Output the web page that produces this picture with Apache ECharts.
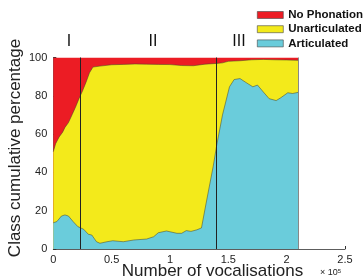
<!DOCTYPE html>
<html><head><meta charset="utf-8">
<script src="https://cdn.jsdelivr.net/npm/echarts@6/dist/echarts.min.js"></script>
<style>html,body{margin:0;padding:0;background:#fff}#c{width:363px;height:280px}</style>
</head><body><div id="c"></div>
<script>
// x in units of 1e5 vocalisations
const noPhonX = [0, 2.1];
const noPhonTop = [100, 100];
const unartX = [0,0.02,0.05,0.08,0.1,0.13,0.16,0.19,0.22,0.25,0.28,0.31,0.34,0.4,0.5,0.6,0.7,0.8,0.9,1.0,1.1,1.2,1.3,1.4,1.45,1.5,1.6,1.7,1.8,1.9,2.0,2.1];
const unartTop = [50.8,55,58.5,61,63.5,66,70,74,78.5,82.5,87,92,95,95.5,96.2,96.4,96.6,96.5,96.4,96.3,95.8,95.7,96.5,96.9,97.2,98,98.3,98.8,99,98.8,98.7,98.5];
const artX = [0,0.03,0.07,0.1,0.13,0.17,0.21,0.26,0.3,0.33,0.37,0.4,0.46,0.51,0.6,0.69,0.8,0.86,0.9,0.97,1.06,1.1,1.14,1.18,1.23,1.27,1.31,1.37,1.4,1.45,1.51,1.55,1.6,1.65,1.71,1.75,1.8,1.85,1.91,1.95,2.01,2.05,2.1];
const artTop = [13.7,14.3,17.2,17.8,17.2,14.3,11.7,10.3,7.7,7.3,3.8,3,3.8,4.3,3.8,4.7,5.2,6.4,8.5,9.4,8.2,8.2,9.6,9.2,10,11,24,43,54,70,84.7,88.5,89,87,84.7,85.6,82,78.5,77.5,79,81.6,81.2,81.8];
const phaseLines = [0.225, 1.4];
const dataEnd = 2.1;
const xTicks = {min:0, max:2.5, interval:0.5};
const yTicks = {min:0, max:100, interval:20};
const xTitle = 'Number of vocalisations';
const yTitle = 'Class cumulative percentage';
const romanLabels = [{t:'I', x:69}, {t:'II', x:153}, {t:'III', x:239}];

const pairs = (xs, ys) => xs.map((x, i) => [x, ys[i]]);
const font = '"Liberation Sans", Arial, Helvetica, sans-serif';
const chart = echarts.init(document.getElementById('c'));
const edge = {color:'#3d3d2a', width:0.7, opacity:0.7};
chart.setOption({
  animation:false,
  textStyle:{fontFamily:font},
  grid:{left:53.3, right:18, top:57.5, bottom:31, containLabel:false, outerBoundsMode:'none'},
  legend:{
    orient:'vertical', left:257, top:9, padding:0, itemWidth:26, itemHeight:7, itemGap:2.2,
    textStyle:{fontFamily:font, fontWeight:'bold', fontSize:11.5, lineHeight:12, color:'#111'},
    itemStyle:{borderColor:'#444', borderWidth:0.6},
    icon:'rect'
  },
  xAxis:{
    type:'value', min:xTicks.min, max:xTicks.max, interval:xTicks.interval,
    splitLine:{show:false},
    axisLine:{lineStyle:{color:'#333', width:0.8}},
    axisTick:{inside:true, length:3, lineStyle:{color:'#333'}},
    axisLabel:{color:'#222', fontSize:11, margin:5}
  },
  yAxis:{
    type:'value', min:yTicks.min, max:yTicks.max, interval:yTicks.interval,
    splitLine:{show:false},
    axisLine:{show:true, lineStyle:{color:'#333', width:0.8}},
    axisTick:{show:true, inside:true, length:3, lineStyle:{color:'#333'}},
    axisLabel:{color:'#222', fontSize:11, margin:6}
  },
  series:[
    {name:'No Phonation', type:'line', data:pairs(noPhonX, noPhonTop), showSymbol:false,
     itemStyle:{color:'#ec1c24'}, lineStyle:{width:0}, areaStyle:{color:'#ec1c24', opacity:1},
     markLine:{symbol:'none', silent:true, label:{show:false},
       lineStyle:{color:'#888', width:1, type:'solid'}, data:[{xAxis:dataEnd}]}},
    {name:'Unarticulated', type:'line', data:pairs(unartX, unartTop), showSymbol:false,
     itemStyle:{color:'#f3ea1b'}, lineStyle:edge, areaStyle:{color:'#f3ea1b', opacity:1}},
    {name:'Articulated', type:'line', data:pairs(artX, artTop), showSymbol:false,
     itemStyle:{color:'#6accdb'}, lineStyle:edge, areaStyle:{color:'#6accdb', opacity:1},
     markLine:{symbol:'none', silent:true, label:{show:false}, z:10,
       lineStyle:{color:'#222', width:1, type:'solid'},
       data:phaseLines.map(v => ({xAxis:v}))}}
  ],
  graphic: romanLabels.map(r => ({
    type:'text', x:r.x, y:42, style:{text:r.t, font:'16px '+font, fill:'#111', align:'center', verticalAlign:'middle'}
  })).concat([
    {type:'text', x:212.5, y:271.5, style:{text:xTitle, font:'17px '+font, fill:'#222', align:'center', verticalAlign:'middle'}},
    {type:'text', x:15, y:148, rotation:Math.PI/2, style:{text:yTitle, font:'17px '+font, fill:'#222', align:'center', verticalAlign:'middle'}},
    {type:'text', x:320, y:268,
     style:{rich:{a:{fontSize:9, fill:'#222', fontFamily:font}, s:{fontSize:6, fill:'#222', fontFamily:font, verticalAlign:'top'}},
      text:'{a|× 10}{s|5}'}}
  ])
});
</script></body></html>
